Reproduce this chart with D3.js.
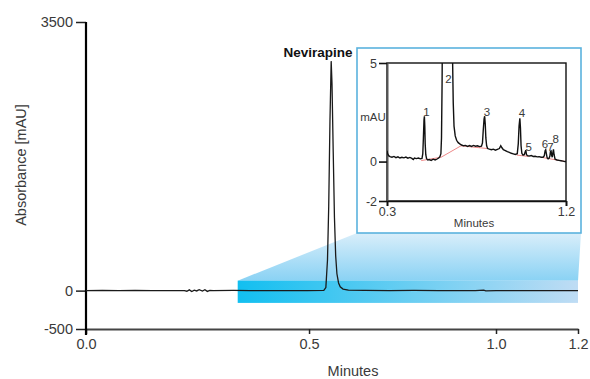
<!DOCTYPE html>
<html>
<head>
<meta charset="utf-8">
<script src="https://cdn.jsdelivr.net/npm/d3@7"></script>
<style>
  body { margin: 0; background: #fff; }
  svg { font-family: "Liberation Sans", Arial, sans-serif; }
  text { fill: #3a3a3a; }
</style>
</head>
<body>
<svg id="chart" width="590" height="379"></svg>
<script>
// main chromatogram, [minutes, mAU]
const mainTrace = [
  [0.000, 0], [0.040, 2], [0.080, -1], [0.120, 2], [0.160, 0], [0.200, 1], [0.240, 0],
  [0.246, -8], [0.252, 10], [0.258, -12], [0.264, 6], [0.270, -4], [0.276, 12], [0.284, -6],
  [0.290, 12], [0.296, -10], [0.302, 4], [0.310, 0], [0.360, 2], [0.400, -1], [0.450, 1],
  [0.500, 0], [0.540, 1], [0.580, 3], [0.585, 40], [0.589, 400], [0.592, 1100], [0.595, 2200],
  [0.598, 2990], [0.600, 2700], [0.603, 1800], [0.606, 950], [0.609, 450], [0.612, 220],
  [0.616, 100], [0.620, 50], [0.627, 20], [0.640, 6], [0.680, 2], [0.740, 0], [0.800, 2],
  [0.860, -1], [0.900, 1], [0.950, 0], [0.970, 6], [0.975, -3], [1.000, 1], [1.060, 0],
  [1.120, 1], [1.200, 0]
];

// inset (zoomed) trace, [minutes, mAU]
const insetTrace = [
  [0.300, 0.55], [0.303, 0.40], [0.308, 0.30], [0.315, 0.25], [0.325, 0.22], [0.335, 0.26],
  [0.345, 0.20], [0.355, 0.24], [0.365, 0.18], [0.375, 0.22], [0.385, 0.19], [0.395, 0.23],
  [0.405, 0.17], [0.415, 0.21], [0.425, 0.16], [0.432, 0.10], [0.438, 0.18], [0.448, 0.15],
  [0.458, 0.18], [0.468, 0.14], [0.476, 0.16], [0.480, 0.40], [0.483, 1.20], [0.486, 2.10],
  [0.488, 2.30], [0.490, 1.80], [0.492, 0.90], [0.495, 0.35], [0.499, 0.15], [0.505, 0.08],
  [0.512, 0.10], [0.522, 0.06], [0.532, 0.12], [0.542, 0.08], [0.552, 0.13], [0.560, 0.18],
  [0.566, 0.25], [0.571, 0.40], [0.574, 1.20], [0.577, 4.00], [0.580, 9.00], [0.600, 40.0],
  [0.626, 9.00], [0.630, 5.00], [0.633, 3.00], [0.637, 1.80], [0.643, 1.30], [0.650, 1.08],
  [0.658, 0.96], [0.666, 0.90], [0.675, 0.84], [0.685, 0.80], [0.695, 0.82], [0.705, 0.77],
  [0.715, 0.81], [0.725, 0.77], [0.735, 0.82], [0.745, 0.78], [0.755, 0.80], [0.765, 0.76],
  [0.775, 0.78], [0.780, 0.95], [0.784, 1.60], [0.788, 2.15], [0.791, 2.30], [0.794, 1.90],
  [0.797, 1.20], [0.801, 0.80], [0.806, 0.66], [0.815, 0.63], [0.825, 0.60], [0.835, 0.63],
  [0.845, 0.58], [0.855, 0.62], [0.865, 0.66], [0.872, 0.80], [0.878, 0.70], [0.885, 0.60],
  [0.895, 0.56], [0.905, 0.50], [0.915, 0.47], [0.925, 0.42], [0.935, 0.39], [0.945, 0.36],
  [0.955, 0.40], [0.960, 0.90], [0.964, 1.80], [0.968, 2.20], [0.971, 1.70], [0.974, 0.80],
  [0.978, 0.42], [0.984, 0.33], [0.990, 0.35], [0.995, 0.50], [0.998, 0.58], [1.001, 0.36],
  [1.006, 0.30], [1.015, 0.28], [1.025, 0.31], [1.035, 0.26], [1.045, 0.27], [1.055, 0.24],
  [1.065, 0.25], [1.075, 0.22], [1.085, 0.22], [1.091, 0.30], [1.095, 0.55], [1.098, 0.60],
  [1.101, 0.42], [1.105, 0.20], [1.110, 0.14], [1.115, 0.17], [1.119, 0.28], [1.122, 0.52],
  [1.125, 0.54], [1.128, 0.30], [1.131, 0.22], [1.134, 0.46], [1.137, 0.62], [1.140, 0.36],
  [1.145, 0.12], [1.155, 0.08], [1.165, 0.06], [1.175, 0.04], [1.185, 0.02], [1.195, 0.00],
  [1.200, 0.00]
];

// integration baselines (red) in the inset
const baselineSegments = [
  [[0.472, 0.05], [0.572, 0.22], [0.672, 0.80], [0.805, 0.66]],
  [[0.952, 0.33], [1.012, 0.26]],
  [[1.085, 0.20], [1.200, 0.00]]
];

const peakLabels = ["1", "2", "3", "4", "5", "6", "7", "8"];
const peakLabelTimes = [0.498, 0.609, 0.803, 0.979, 1.013, 1.094, 1.122, 1.148];
const peakLabelValues = [2.5, 4.2, 2.5, 2.45, 0.75, 0.88, 0.74, 1.14];

const yTicks = [-500, 0, 3500];
// the reference draws its "0.5" tick slightly right of 0.5 min
const xTickPositions = [0, 0.544, 1.0, 1.2];
const xTickLabels = ["0.0", "0.5", "1.0", "1.2"];

const insetYTicks = [-2, 0, 5];
const insetXTicks = [0.3, 1.2];
const zoomRange = [0.37, 1.2];   // minutes covered by the blue band

const svg = d3.select("#chart");
const defs = svg.append("defs");

const x = d3.scaleLinear().domain([0, 1.2]).range([86, 578]);
const y = d3.scaleLinear().domain([-500, 3500]).range([329, 22]);

// gradients for the zoom band
const bandGrad = defs.append("linearGradient").attr("id", "bandGrad")
    .attr("x1", "0").attr("x2", "1").attr("y1", "0").attr("y2", "0");
bandGrad.append("stop").attr("offset", "0").attr("stop-color", "#12bff0");
bandGrad.append("stop").attr("offset", "1").attr("stop-color", "#bfdcf4");

const fanGrad = defs.append("linearGradient").attr("id", "fanGrad")
    .attr("x1", "0").attr("x2", "0").attr("y1", "0").attr("y2", "1");
fanGrad.append("stop").attr("offset", "0").attr("stop-color", "#d9eefa");
fanGrad.append("stop").attr("offset", "1").attr("stop-color", "#8ad2f4");

const insetBox = {x: 357, y: 48, w: 224, h: 185};
const bandTop = y(130), bandBottom = y(-160);

svg.append("path")
    .attr("d", d3.line()([
        [x(zoomRange[0]), bandTop],
        [insetBox.x, insetBox.y + insetBox.h],
        [insetBox.x + insetBox.w, insetBox.y + insetBox.h],
        [x(zoomRange[1]), bandTop]
    ]) + "Z")
    .attr("fill", "url(#fanGrad)");

svg.append("rect")
    .attr("x", x(zoomRange[0]))
    .attr("y", bandTop)
    .attr("width", x(zoomRange[1]) - x(zoomRange[0]))
    .attr("height", bandBottom - bandTop)
    .attr("fill", "url(#bandGrad)");

// main axes
const yAxis = svg.append("g")
    .attr("transform", "translate(86,0)")
    .call(d3.axisLeft(y).tickValues(yTicks).tickFormat(d => String(d))
        .tickSize(10).tickSizeOuter(0).tickPadding(3));
yAxis.select(".domain").remove();
yAxis.selectAll(".tick line").attr("stroke", "#222").attr("stroke-width", 1.5);
yAxis.selectAll(".tick text").attr("font-size", 14.5).attr("fill", "#3a3a3a");

const xAxis = svg.append("g")
    .attr("transform", "translate(0,329)")
    .call(d3.axisBottom(x).tickValues(xTickPositions)
        .tickFormat((d, i) => xTickLabels[i]).tickSize(5).tickSizeOuter(0).tickPadding(5));
xAxis.select(".domain").attr("stroke", "#444").attr("stroke-width", 2);
xAxis.selectAll(".tick line").attr("stroke", "#222").attr("stroke-width", 1.5);
xAxis.selectAll(".tick text").attr("font-size", 14.5).attr("fill", "#3a3a3a");

svg.append("line")
    .attr("x1", 86).attr("x2", 86)
    .attr("y1", y(3500)).attr("y2", 335)
    .attr("stroke", "#000").attr("stroke-width", 2.2);

// main trace
svg.append("path")
    .datum(mainTrace)
    .attr("fill", "none")
    .attr("stroke", "#1a1a1a")
    .attr("stroke-width", 1.3)
    .attr("d", d3.line().x(d => x(d[0])).y(d => y(d[1])));

svg.append("text")
    .attr("x", 318).attr("y", 57)
    .attr("text-anchor", "middle")
    .attr("font-size", 13.5)
    .attr("font-weight", "bold")
    .style("fill", "#111")
    .text("Nevirapine");

svg.append("text")
    .attr("x", 353).attr("y", 376)
    .attr("text-anchor", "middle")
    .attr("font-size", 14.5)
    .text("Minutes");

svg.append("text")
    .attr("transform", "translate(26,165) rotate(-90)")
    .attr("text-anchor", "middle")
    .attr("font-size", 14.5)
    .text("Absorbance [mAU]");

// inset
svg.append("rect")
    .attr("x", insetBox.x).attr("y", insetBox.y)
    .attr("width", insetBox.w).attr("height", insetBox.h)
    .attr("fill", "#fff")
    .attr("stroke", "#5ab2de")
    .attr("stroke-width", 1.6);

const xi = d3.scaleLinear().domain([0.3, 1.2]).range([387, 566]);
const yi = d3.scaleLinear().domain([-2, 5]).range([201, 63]);

defs.append("clipPath").attr("id", "insetClip")
    .append("rect")
    .attr("x", xi(0.3)).attr("y", yi(5))
    .attr("width", xi(1.2) - xi(0.3)).attr("height", yi(-2) - yi(5));

// frame: top, right, bottom black, left grey
svg.append("rect")
    .attr("x", xi(0.3)).attr("y", yi(5))
    .attr("width", xi(1.2) - xi(0.3)).attr("height", yi(-2) - yi(5))
    .attr("fill", "none")
    .attr("stroke", "#111")
    .attr("stroke-width", 1.4);

const iy = svg.append("g")
    .attr("transform", `translate(${xi(0.3)},0)`)
    .call(d3.axisLeft(yi).tickValues(insetYTicks).tickFormat(d => String(d))
        .tickSize(8).tickSizeOuter(0).tickPadding(2));
iy.select(".domain").attr("stroke", "#555").attr("stroke-width", 2);
iy.selectAll(".tick line").attr("stroke", "#111").attr("stroke-width", 1.6);
iy.selectAll(".tick text").attr("font-size", 12.5).attr("fill", "#3a3a3a");

const ix = svg.append("g")
    .attr("transform", `translate(0,${yi(-2)})`)
    .call(d3.axisBottom(xi).tickValues(insetXTicks).tickFormat(d3.format(".1f"))
        .tickSize(5).tickSizeOuter(0).tickPadding(1));
ix.select(".domain").attr("stroke", "#111").attr("stroke-width", 1.4);
ix.selectAll(".tick line").attr("stroke", "#111").attr("stroke-width", 2);
ix.selectAll(".tick text").attr("font-size", 12.5).attr("fill", "#3a3a3a");

svg.append("text")
    .attr("x", 373).attr("y", 121)
    .attr("text-anchor", "middle")
    .attr("font-size", 11.5)
    .text("mAU");

svg.append("text")
    .attr("x", 474).attr("y", 227)
    .attr("text-anchor", "middle")
    .attr("font-size", 11.5)
    .text("Minutes");

const inner = svg.append("g").attr("clip-path", "url(#insetClip)");

inner.selectAll(".baseline")
    .data(baselineSegments)
    .join("path")
    .attr("class", "baseline")
    .attr("fill", "none")
    .attr("stroke", "#ec7a7a")
    .attr("stroke-width", 0.9)
    .attr("d", d3.line().x(d => xi(d[0])).y(d => yi(d[1])));

inner.append("path")
    .datum(insetTrace)
    .attr("fill", "none")
    .attr("stroke", "#111")
    .attr("stroke-width", 1.4)
    .attr("d", d3.line().x(d => xi(d[0])).y(d => yi(d[1])));

svg.selectAll(".peak-label")
    .data(peakLabels)
    .join("text")
    .attr("class", "peak-label")
    .attr("x", (d, i) => xi(peakLabelTimes[i]))
    .attr("y", (d, i) => yi(peakLabelValues[i]))
    .attr("dy", "0.35em")
    .attr("text-anchor", "middle")
    .attr("font-size", 11.5)
    .text(d => d);
</script>
</body>
</html>
